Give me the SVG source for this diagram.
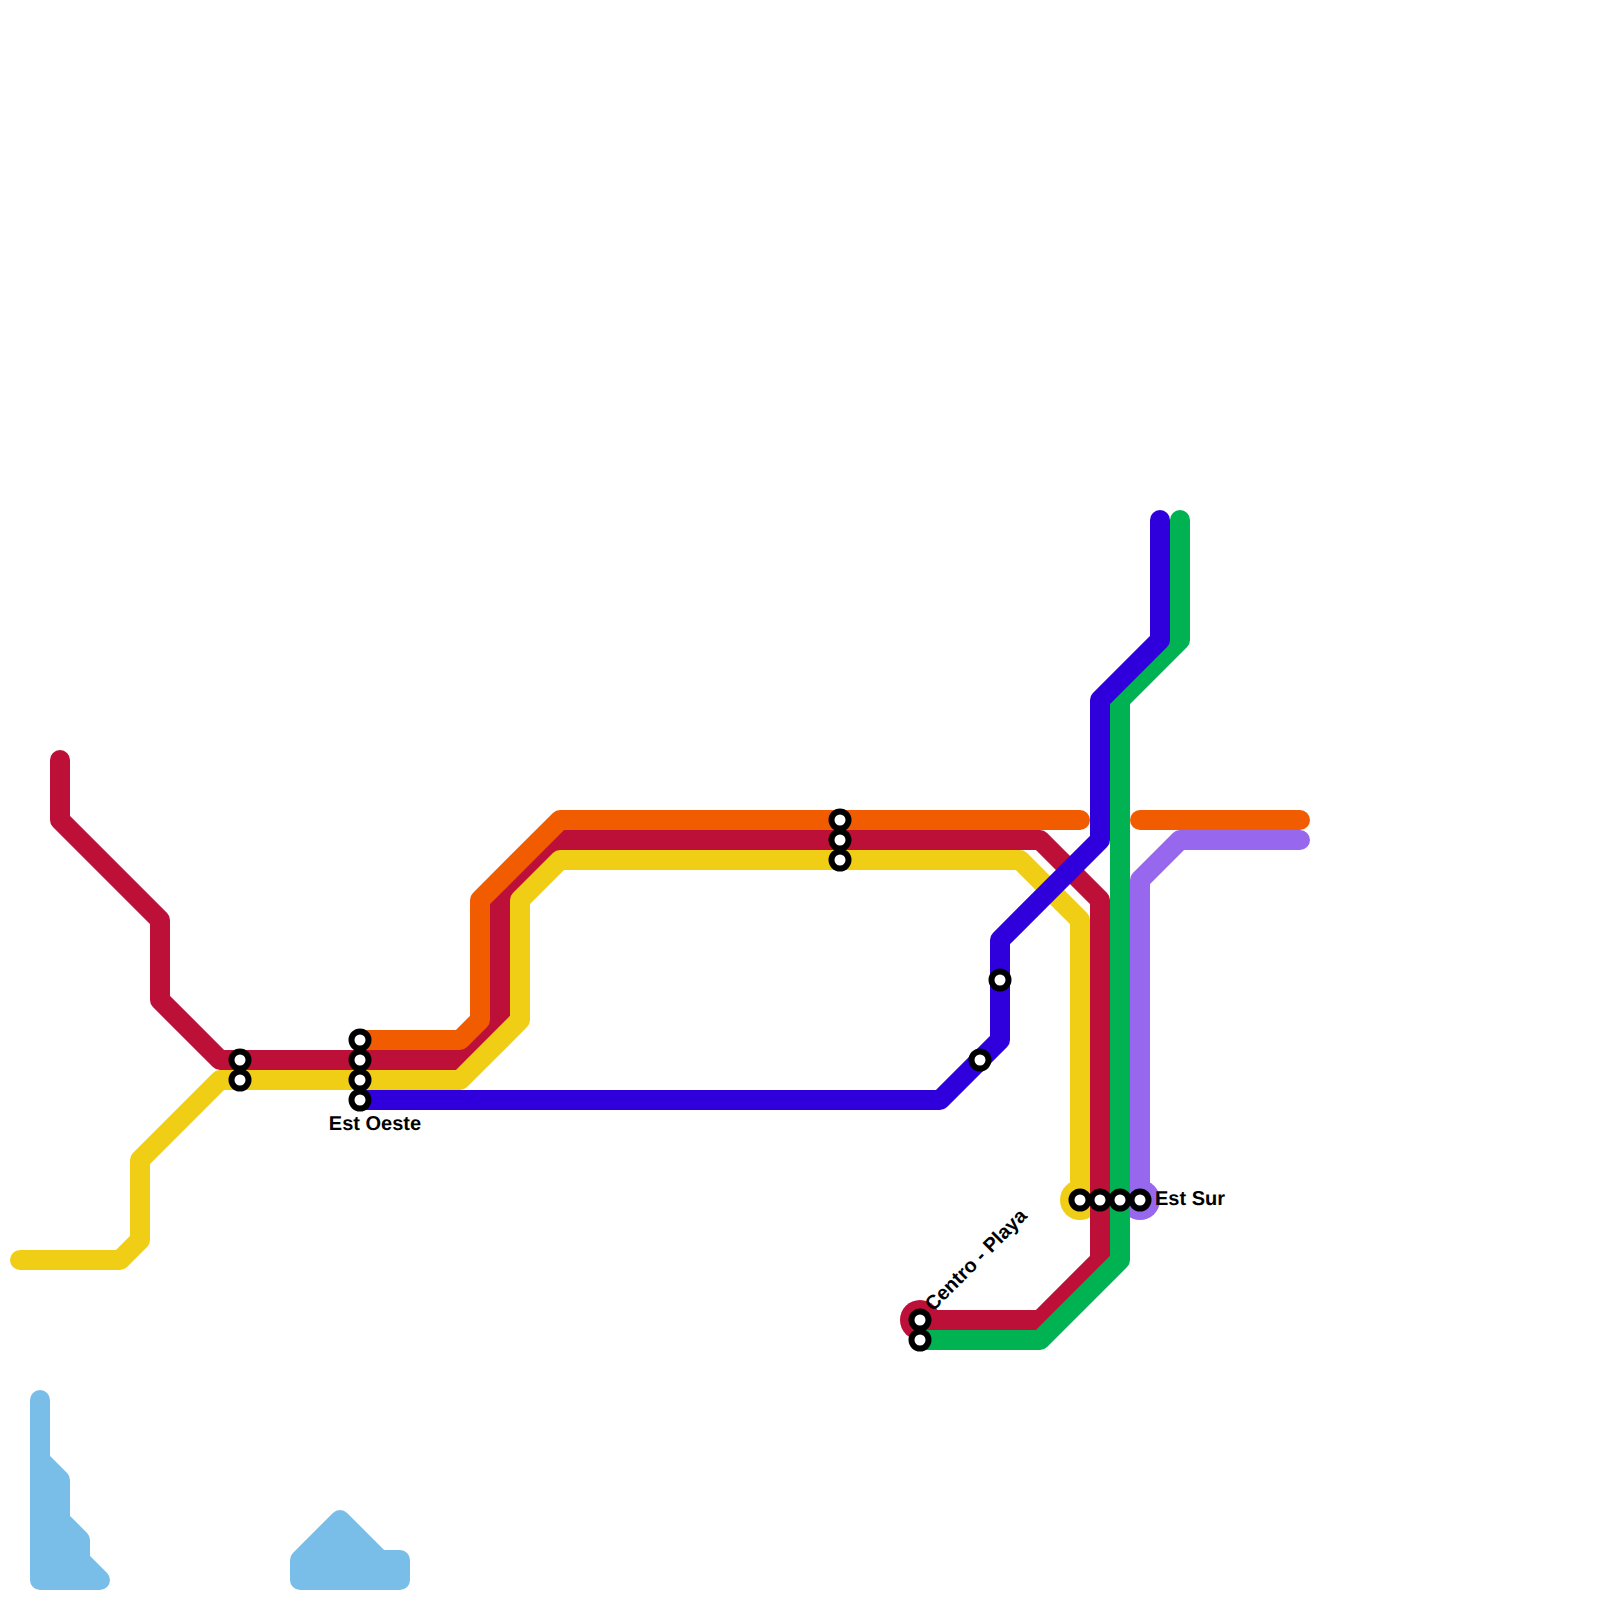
<svg xmlns="http://www.w3.org/2000/svg" width="1600" height="1600" viewBox="0 0 1600 1600">
<style>
.l{fill:none;stroke-width:20;stroke-linecap:round;stroke-linejoin:round}
.w{fill:#79bde9;stroke:#79bde9;stroke-width:20;stroke-linejoin:round;stroke-linecap:round}
.s{fill:#fff;stroke:#000;stroke-width:6}
text{font-family:"Liberation Sans",Arial,sans-serif;font-size:20px;font-weight:700;fill:#000;text-rendering:geometricPrecision}
</style>
<rect width="1600" height="1600" fill="#fff"/>
<g id="water">
<polygon class="w" points="40,1400 40,1580 100,1580 80,1560 80,1540 60,1520 60,1480 40,1460"/>
<polygon class="w" points="300,1580 400,1580 400,1560 380,1560 340,1520 300,1560"/>
</g>
<g id="connectors">
<circle cx="920" cy="1320" r="20" fill="#bd1038"/>
<circle cx="1080" cy="1200" r="20" fill="#f0ce15"/>
<circle cx="1140" cy="1200" r="20" fill="#9768ee"/>
<path class="l" stroke="#bd1038" d="M60 760V820L160 920V1000L220 1060H460L500 1020V900L560 840H1040L1100 900V1260L1040 1320H920"/>
<path class="l" stroke="#f0ce15" d="M20 1260H120L140 1240V1160L220 1080H460L520 1020V900L560 860H1020L1080 920V1200"/>
<path class="l" stroke="#f25c00" d="M360 1040H460L480 1020V900L560 820H1080"/>
<path class="l" stroke="#f25c00" d="M1140 820H1300"/>
<path class="l" stroke="#9768ee" d="M1300 840H1180L1140 880V1200"/>
<path class="l" stroke="#00b251" d="M1180 520V640L1120 700V1260L1040 1340H920"/>
<path class="l" stroke="#3000dc" d="M1160 520V640L1100 700V840L1000 940V1040L940 1100H360"/>
</g>
<g id="st-west-1"><circle class="s" cx="240" cy="1060" r="8.5"/></g>
<g id="st-west-2"><circle class="s" cx="240" cy="1080" r="8.5"/></g>
<g id="st-oeste-1"><circle class="s" cx="360" cy="1040" r="8.5"/></g>
<g id="st-oeste-2"><circle class="s" cx="360" cy="1060" r="8.5"/></g>
<g id="st-oeste-3"><circle class="s" cx="360" cy="1080" r="8.5"/></g>
<g id="st-oeste-4"><circle class="s" cx="360" cy="1100" r="8.5"/><text x="375" y="1130" text-anchor="middle">Est Oeste</text></g>
<g id="st-mid-1"><circle class="s" cx="840" cy="820" r="8.5"/></g>
<g id="st-mid-2"><circle class="s" cx="840" cy="840" r="8.5"/></g>
<g id="st-mid-3"><circle class="s" cx="840" cy="860" r="8.5"/></g>
<g id="st-blue-1"><circle class="s" cx="980" cy="1060" r="8.5"/></g>
<g id="st-blue-2"><circle class="s" cx="1000" cy="980" r="8.5"/></g>
<g id="st-sur-1"><circle class="s" cx="1080" cy="1200" r="8.5"/></g>
<g id="st-sur-2"><circle class="s" cx="1100" cy="1200" r="8.5"/></g>
<g id="st-sur-3"><circle class="s" cx="1120" cy="1200" r="8.5"/></g>
<g id="st-sur-4"><circle class="s" cx="1140" cy="1200" r="8.5"/><text x="1155" y="1205">Est Sur</text></g>
<g id="st-centro-1"><circle class="s" cx="920" cy="1320" r="8.5"/><text transform="translate(933 1312) rotate(-45)">Centro - Playa</text></g>
<g id="st-centro-2"><circle class="s" cx="920" cy="1340" r="8.5"/></g>
</svg>
